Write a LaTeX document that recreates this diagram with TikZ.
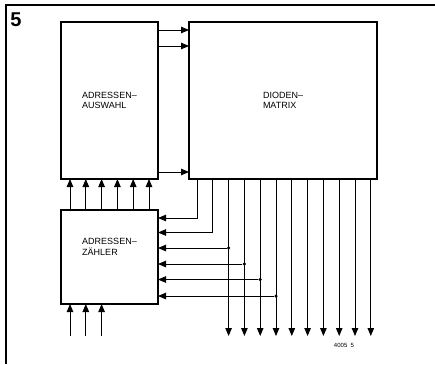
\documentclass[tikz,border=0pt]{standalone}
\usepackage{fontspec}
\setmainfont{Liberation Sans}
\usetikzlibrary{arrows.meta, positioning}

\begin{document}
\begin{tikzpicture}[x=1pt, y=-1pt,
    blk/.style={draw, line width=1.8pt, outer sep=0pt, inner sep=0pt, minimum width=97pt, align=left, font=\fontsize{9}{10.5}\selectfont},
    txt/.style={align=left, inner sep=0pt, font=\fontsize{9}{10.5}\selectfont},
    wire/.style={line width=0.9pt},
    arr/.style={wire, -{Triangle[length=8pt, width=6.5pt]}},
    jn/.style={circle, fill, inner sep=0pt, minimum size=3.5pt}
  ]
    \useasboundingbox (0,0) rectangle (435,364);
    \draw[line width=1.3pt] (6,364) -- (6,5) -- (435,5);
    \node[font=\bfseries\fontsize{20}{20}\selectfont] (fig) at (16,19.5) {5};

    % blocks
    \node[blk, minimum height=157pt] (sel) at (109.5,100.5) {ADRESSEN--\\AUSWAHL};
    \node[blk, minimum width=188pt, minimum height=157pt, right=31pt of sel] (mat) {DIODEN--\\MATRIX};
    \node[blk, minimum height=94pt, below=31pt of sel] (cnt) {};
    \node[txt] (cnttxt) at ([yshift=10pt]cnt.center) {ADRESSEN--\\ZÄHLER};

    % selector -> matrix
    \foreach \y in {8,24,150}
      \draw[arr] ([yshift=-\y pt]sel.north east) -- ([yshift=-\y pt]mat.north west);

    % counter -> selector
    \foreach \i [evaluate=\i as \xo using 9+15.8*\i] in {0,...,5}
      \draw[arr] ([xshift=\xo pt]cnt.north west) -- ([xshift=\xo pt]sel.south west);

    % counter inputs
    \foreach \i [evaluate=\i as \xo using 9+15.8*\i] in {0,1,2} {
      \coordinate (in\i) at ([xshift=\xo pt, yshift=-32pt]cnt.south west);
      \draw[arr] (in\i) -- ([xshift=\xo pt]cnt.south west);
    }

    % matrix outputs
    \draw[arr] ([xshift=8pt]mat.south west) |- ([yshift=-8pt]cnt.north east);
    \draw[arr] ([xshift=23.8pt]mat.south west) |- ([yshift=-22.5pt]cnt.north east);
    \foreach \j [evaluate=\j as \xo using 8+15.8*\j] in {2,...,11} {
      \coordinate (out\j) at ([xshift=\xo pt, yshift=-157pt]mat.south west);
      \draw[arr] ([xshift=\xo pt]mat.south west) -- (out\j);
    }
    \foreach \j/\yo in {2/38, 3/54, 4/69.5, 5/86} {
      \coordinate (c\j) at ([yshift=-\yo pt]cnt.north east);
      \node[jn] (tap\j) at (out\j |- c\j) {};
      \draw[arr] (tap\j) -- (c\j);
    }

    \node[font=\fontsize{6}{7}\selectfont] (code) at (344,345) {4005\ \ 5};
  \end{tikzpicture}
\end{document}
